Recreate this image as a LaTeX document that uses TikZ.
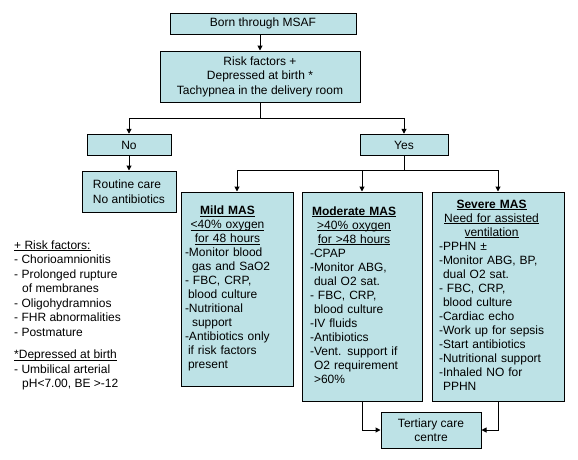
\documentclass[tikz,border=0pt]{standalone}
\usepackage{fontspec}
\setmainfont{Liberation Sans}
\usetikzlibrary{arrows.meta}
\definecolor{boxfill}{RGB}{189,226,230}
\newcommand\mashead[1]{\multicolumn{1}{@{}c@{}}{#1}}
\newcommand\myul[1]{\setbox0\hbox{#1}\rlap{\rule[-1.7pt]{\wd0}{0.8pt}}\box0}
\begin{document}
\begin{tikzpicture}[x=1pt,y=-1pt,
  box/.style={draw=black, line width=1pt, fill=boxfill, inner sep=0pt,
    font=\fontsize{12}{14.5}\selectfont, align=center},
  masbox/.style={draw=black, line width=1pt, fill=boxfill, inner ysep=0pt,
    font=\fontsize{12}{14}\selectfont, align=left},
  conn/.style={line width=1pt, -{Triangle[length=5pt,width=5pt]}},
  plain/.style={line width=1pt},
  legend/.style={inner sep=0pt, align=left, font=\fontsize{12}{14.5}\selectfont}
]
\useasboundingbox (0,0) rectangle (578,459);

\node[box, minimum width=186, minimum height=21] (born) at (263,23.5) {Born through MSAF};
\node[box, minimum width=200, minimum height=51] (risk) at (260,76.5)
  {Risk factors +\\Depressed at birth *\\Tachypnea in the delivery room};
\node[box, minimum width=84, minimum height=21.5] (no) at (129,145) {No};
\node[box, minimum width=88, minimum height=21.5] (yes) at (404,145) {Yes};
\node[box, minimum width=94, minimum height=41, align=left] (routine) at (129,191.5)
  {Routine care\\No antibiotics};

\node[masbox, inner xsep=4pt, text width=104pt, minimum height=194] (mild) at (237,289) {%
\begin{tabular}{@{}l@{}}
\mashead{\myul{\textbf{Mild MAS}}}\\
\mashead{\myul{<40\% oxygen}}\\
\mashead{\myul{for 48 hours}}\\
-Monitor blood\\
\hspace*{7pt}gas and SaO2\\
- FBC, CRP,\\
\hspace*{3pt}blood culture\\
-Nutritional\\
\hspace*{7pt}support\\
-Antibiotics only\\
\hspace*{3pt}if risk factors\\
\hspace*{3pt}present
\end{tabular}};

\node[masbox, inner xsep=8pt, text width=104pt, minimum height=209] (moderate) at (362,296.5) {%
\begin{tabular}{@{}l@{}}
\mashead{\myul{\textbf{Moderate MAS}}}\\
\mashead{\myul{>40\% oxygen}}\\
\mashead{\myul{for >48 hours}}\\
-CPAP\\
-Monitor ABG,\\
\hspace*{4pt}dual O2 sat.\\
- FBC, CRP,\\
\hspace*{4pt}blood culture\\
-IV fluids\\
-Antibiotics\\
-Vent. support if\\
\hspace*{4pt}O2 requirement\\
\hspace*{4pt}>60\%
\end{tabular}};

\node[masbox, inner xsep=7pt, text width=118pt, minimum height=209] (severe) at (498,296.5) {%
\begin{tabular}{@{}l@{}}
\mashead{\myul{\textbf{Severe MAS}}}\\
\mashead{\myul{Need for assisted}}\\
\mashead{\myul{ventilation}}\\
-PPHN ±\\
-Monitor ABG, BP,\\
\hspace*{4pt}dual O2 sat.\\
- FBC, CRP,\\
\hspace*{4pt}blood culture\\
-Cardiac echo\\
-Work up for sepsis\\
-Start antibiotics\\
-Nutritional support\\
-Inhaled NO for\\
\hspace*{4pt}PPHN
\end{tabular}};

\node[box, minimum width=100, minimum height=36] (tertiary) at (431,430) {Tertiary care\\centre};

\node[legend, anchor=north west] (legend) at (14,240.5) {%
\myul{+ Risk factors:}\\
- Chorioamnionitis\\
- Prolonged rupture\\
\hspace*{8pt}of membranes\\
- Oligohydramnios\\
- FHR abnormalities\\
- Postmature\\[8pt]
\myul{*Depressed at birth}\\
- Umbilical arterial\\
\hspace*{8pt}pH<7.00, BE >-12};

% connectors
\draw[conn] (risk.north |- born.south) -- (risk.north);
\coordinate (j1) at (260,118);
\draw[plain] (risk.south) -- (j1);
\draw[conn] (j1) -| (no.north);
\draw[conn] (j1) -| (yes.north);
\draw[conn] (no.south) -- (routine.north);
\path (yes.south) ++(0,14.5) coordinate (j2);
\draw[plain] (yes.south) -- (j2);
\draw[conn] (j2) -| (mild.north);
\draw[conn] (j2) -| (moderate.north);
\draw[conn] (j2) -| (severe.north);
\draw[conn] (moderate.south) |- (tertiary.west);
\draw[conn] (severe.south) |- (tertiary.east);
\end{tikzpicture}
\end{document}
